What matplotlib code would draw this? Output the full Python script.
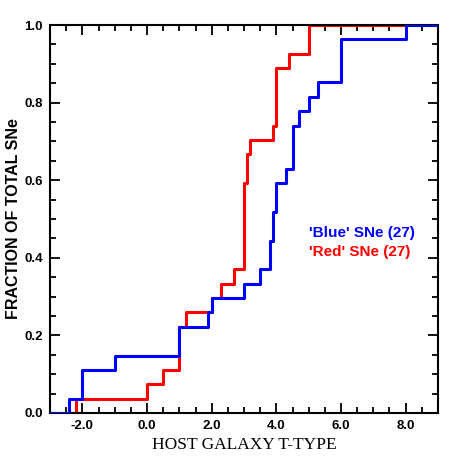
"""Cumulative host-galaxy T-type distribution for blue and red SNe."""

import matplotlib
matplotlib.use("Agg")
import matplotlib.pyplot as plt
import numpy as np
from matplotlib.ticker import MultipleLocator, FormatStrFormatter

# host galaxy T-types (27 SNe each)
blue_ttype = [-2.4, -2.0, -2.0, -1.0, 1.0, 1.0, 1.9, 2.0, 3.0, 3.5,
              3.8, 3.8, 3.9, 3.9, 4.0, 4.0, 4.3, 4.5, 4.5, 4.5,
              4.7, 5.0, 5.3, 6.0, 6.0, 6.0, 8.0]
red_ttype = [-2.2, 0.0, 0.5, 1.0, 1.0, 1.0, 1.2, 2.0, 2.3, 2.7,
             3.0, 3.0, 3.0, 3.0, 3.0, 3.0, 3.1, 3.1, 3.2, 3.9,
             4.0, 4.0, 4.0, 4.0, 4.4, 5.0, 5.0]
x_range = (-3.0, 9.0)
legend_labels = ["'Blue' SNe (27)", "'Red' SNe (27)"]


def ecdf_steps(values, lo, hi):
    v = np.sort(np.asarray(values, dtype=float))
    frac = np.arange(1, len(v) + 1) / len(v)
    x = np.concatenate([[lo], v, [hi]])
    y = np.concatenate([[0.0], frac, [1.0]])
    return x, y


fig = plt.figure(figsize=(4.63, 4.63), dpi=100)
ax = fig.add_axes([0.108, 0.108, 0.838, 0.838])

bx, by = ecdf_steps(blue_ttype, *x_range)
rx, ry = ecdf_steps(red_ttype, *x_range)
ax.step(rx, ry, where="post", color="#ff0000", lw=2.2, zorder=2)
ax.step(bx, by, where="post", color="#0000ff", lw=2.2, zorder=3)

ax.set_xlim(*x_range)
ax.set_ylim(0, 1)

ax.xaxis.set_major_locator(MultipleLocator(2))
ax.xaxis.set_minor_locator(MultipleLocator(0.5))
ax.yaxis.set_major_locator(MultipleLocator(0.2))
ax.yaxis.set_minor_locator(MultipleLocator(0.05))
ax.xaxis.set_major_formatter(FormatStrFormatter("%.1f"))
ax.yaxis.set_major_formatter(FormatStrFormatter("%.1f"))
ax.tick_params(which="both", direction="in", top=True, right=True, width=1.3)
ax.tick_params(which="major", length=7, labelsize=9.5, pad=5)
ax.tick_params(which="minor", length=4)
for lab in ax.get_xticklabels() + ax.get_yticklabels():
    lab.set_fontweight("bold")
    lab.set_family("Liberation Sans")
for sp in ax.spines.values():
    sp.set_linewidth(1.5)

ax.set_xlabel("HOST GALAXY T-TYPE", family="Liberation Serif", fontsize=12.5, labelpad=4)
ax.set_ylabel("FRACTION OF TOTAL SNe", family="Liberation Sans", fontsize=11.5,
              fontweight="bold")
ax.yaxis.set_label_coords(-0.075, 0.5)

ax.text(0.668, 0.465, legend_labels[0], transform=ax.transAxes, color="#0000ff",
        fontsize=11, fontweight="bold", family="Liberation Sans", va="center")
ax.text(0.668, 0.415, legend_labels[1], transform=ax.transAxes, color="#ff0000",
        fontsize=11, fontweight="bold", family="Liberation Sans", va="center")

fig.savefig("out.png", dpi=100)
plt.close(fig)
